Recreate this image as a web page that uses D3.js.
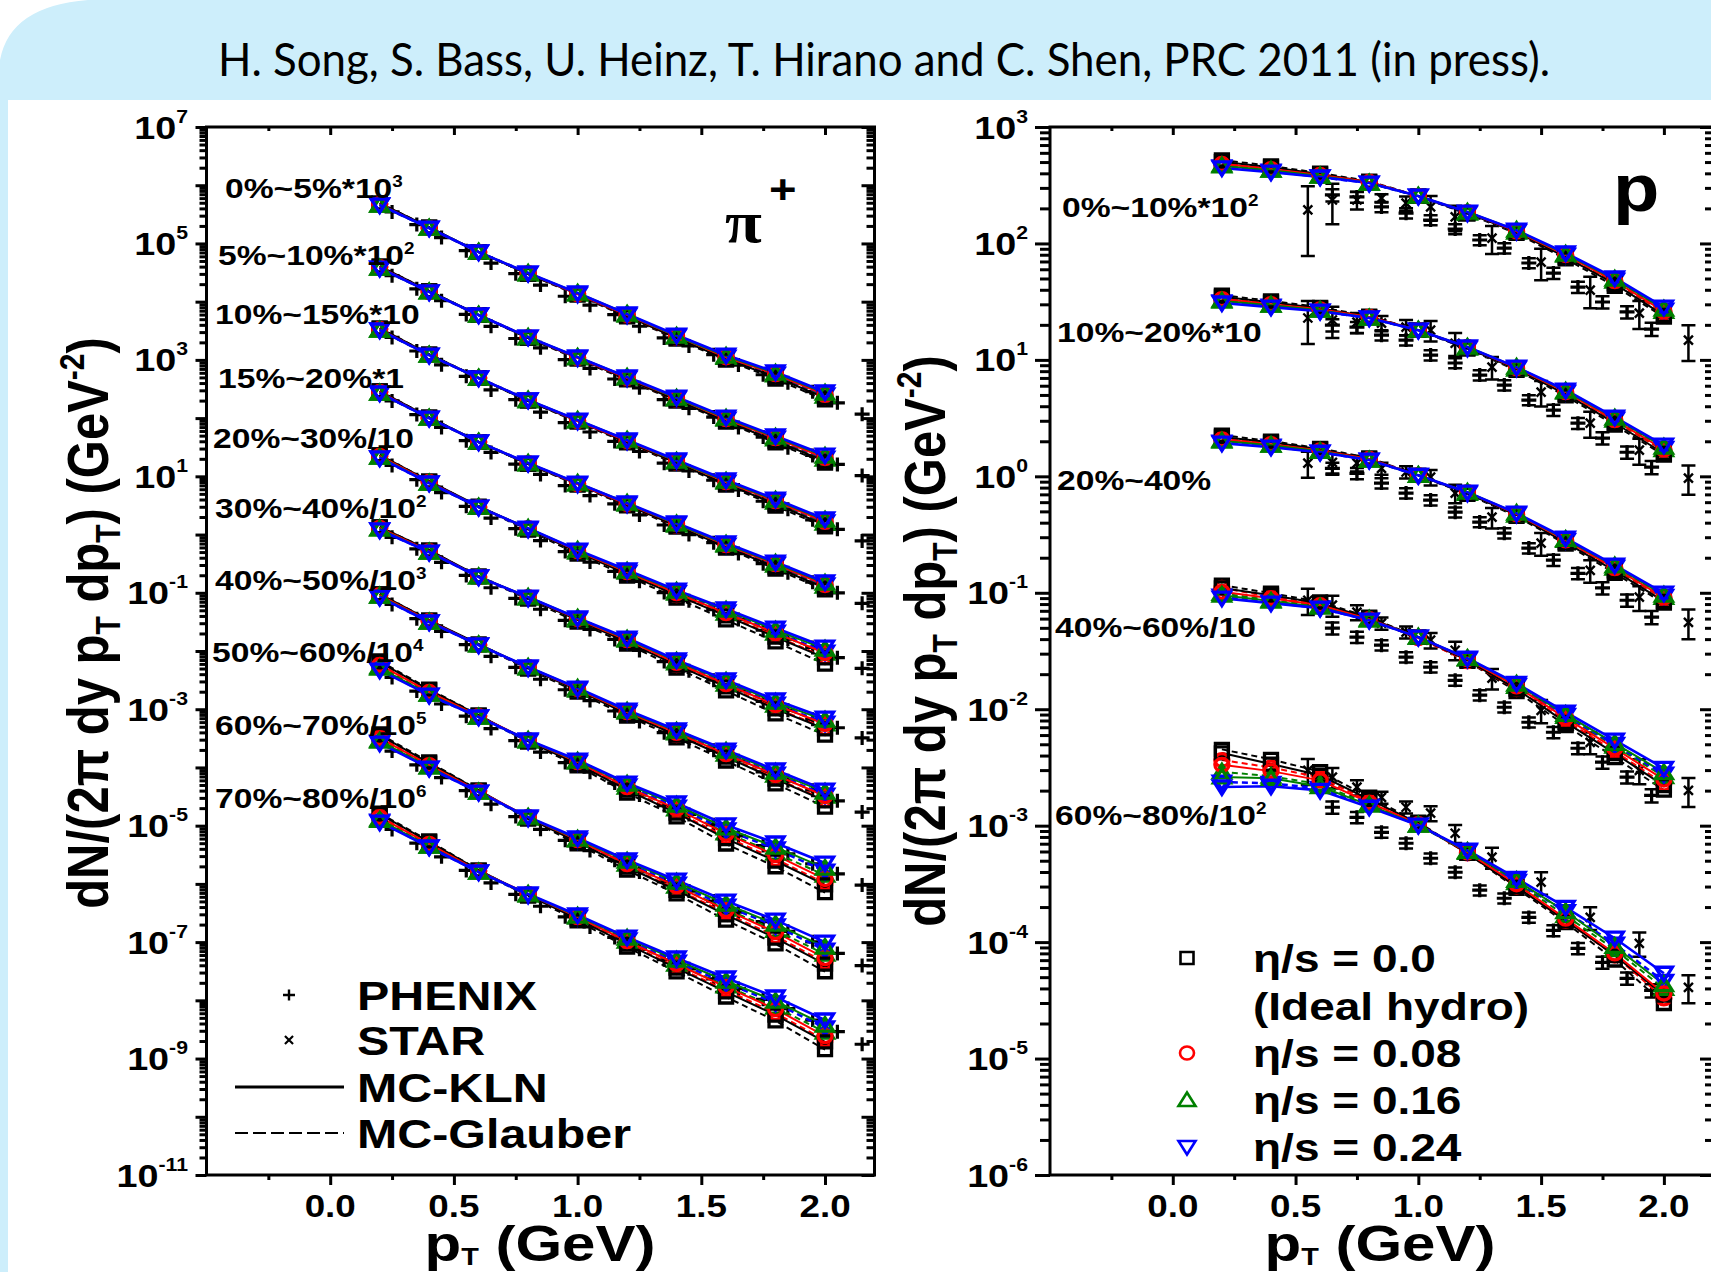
<!DOCTYPE html>
<html>
<head>
<meta charset="utf-8">
<title>Pion and proton spectra: viscous hydro vs. RHIC data</title>
<script src="https://cdn.jsdelivr.net/npm/d3@7"></script>
<style>
  html, body { margin: 0; padding: 0; background: #ffffff; }
  svg { display: block; }
  text { font-family: "Liberation Sans", Arial, sans-serif; font-weight: bold; fill: #000; }
</style>
</head>
<body>
<svg id="chart" width="1711" height="1272"></svg>
<script>
// ================= data =================
const titleText = "H. Song, S. Bass, U. Heinz, T. Hirano and C. Shen, PRC 2011 (in press).";

// pT grid of the hydro calculations (GeV)
const ptModel = [0.2, 0.4, 0.6, 0.8, 1.0, 1.2, 1.4, 1.6, 1.8, 2.0];

// ---- pi+ : centrality classes, scale factors (powers of ten) ----
const pionCentLabels = ["0%~5%*10", "5%~10%*10", "10%~15%*10", "15%~20%*1", "20%~30%/10",
                        "30%~40%/10", "40%~50%/10", "50%~60%/10", "60%~70%/10", "70%~80%/10"];
const pionCentSup    = ["3", "2", "", "", "", "2", "3", "4", "5", "6"];
const pionScaleExp   = [3, 2, 1, 0, -1, -2, -3, -4, -5, -6];

// dN/(2pi dy pT dpT) in GeV^-2 (unscaled), one row per centrality
const pionKLN024 = [
  [457,184,71.3,31.0,14.1,6.14,2.67,1.21,0.619,0.281],
  [378,147,59.0,24.7,11.2,5.08,2.30,1.04,0.493,0.232],
  [326,121,48.9,20.5,9.27,4.21,1.91,0.865,0.407,0.185],
  [270,100,38.9,16.9,7.67,3.48,1.58,0.716,0.337,0.153],
  [207,76.8,29.7,12.9,5.42,2.46,1.11,0.526,0.248,0.117],
  [120,50.1,18.7,8.45,3.69,1.67,0.700,0.318,0.144,0.0706],
  [84.5,31.5,12.7,5.31,2.31,0.968,0.440,0.199,0.0904,0.0409],
  [47.1,17.5,7.35,2.96,1.34,0.540,0.245,0.103,0.0504,0.0228],
  [26.2,9.77,3.78,1.41,0.614,0.257,0.116,0.0507,0.0239,0.0100],
  [11.5,4.30,1.60,0.670,0.292,0.122,0.0533,0.0242,0.0114,0.00459]
];
const pionKLN016 = [
  [457,184,71.3,31.0,14.1,6.14,2.56,1.16,0.594,0.270],
  [378,147,59.0,24.7,11.2,5.08,2.21,1.00,0.473,0.223],
  [326,121,48.9,20.5,9.27,4.21,1.83,0.830,0.391,0.178],
  [270,100,38.9,16.9,7.67,3.48,1.52,0.687,0.324,0.147],
  [215,76.8,29.7,12.9,5.42,2.36,1.07,0.505,0.228,0.108],
  [125,50.1,18.7,8.45,3.69,1.60,0.672,0.305,0.132,0.0650],
  [87.9,31.5,12.7,5.31,2.31,0.929,0.422,0.191,0.0832,0.0376],
  [50.9,18.2,7.35,2.96,1.29,0.518,0.225,0.0917,0.0428,0.0187],
  [28.3,10.2,3.78,1.41,0.589,0.247,0.107,0.0451,0.0203,0.00820],
  [12.4,4.47,1.60,0.670,0.280,0.117,0.0490,0.0215,0.00969,0.00376]
];
const pionKLN008 = [
  [475,184,71.3,31.0,13.5,5.89,2.56,1.11,0.569,0.250],
  [393,147,59.0,24.7,10.8,4.88,2.21,0.957,0.454,0.206],
  [339,121,48.9,20.5,8.90,4.04,1.83,0.796,0.374,0.165],
  [281,100,38.9,16.9,7.36,3.34,1.52,0.659,0.310,0.136],
  [224,79.9,29.7,12.9,5.20,2.26,0.988,0.447,0.203,0.0924],
  [130,52.1,18.7,8.45,3.54,1.54,0.623,0.270,0.118,0.0558],
  [91.3,32.8,12.7,5.31,2.22,0.891,0.392,0.169,0.0741,0.0323],
  [57.5,19.8,7.64,2.96,1.23,0.459,0.194,0.0721,0.0312,0.0121],
  [32.0,11.0,3.93,1.41,0.565,0.218,0.0916,0.0355,0.0148,0.00530],
  [14.0,4.86,1.66,0.670,0.269,0.104,0.0421,0.0169,0.00707,0.00243]
];
const pionKLN000 = [
  [494,191,71.3,29.8,13.5,5.65,2.38,1.03,0.508,0.222],
  [408,153,59.0,23.7,10.8,4.67,2.05,0.884,0.404,0.183],
  [352,126,48.9,19.7,8.90,3.87,1.70,0.735,0.334,0.146],
  [292,104,38.9,16.2,7.36,3.20,1.41,0.609,0.276,0.121],
  [234,82.9,30.9,12.4,4.99,2.09,0.910,0.400,0.174,0.0761],
  [136,54.1,19.4,8.11,3.39,1.42,0.574,0.242,0.101,0.0459],
  [95.5,34.0,13.2,5.10,2.13,0.823,0.361,0.151,0.0633,0.0266],
  [64.5,21.4,7.94,2.84,1.14,0.410,0.164,0.0597,0.0247,0.00958],
  [35.9,11.9,4.08,1.35,0.522,0.195,0.0777,0.0294,0.0117,0.00420],
  [15.8,5.25,1.73,0.643,0.248,0.0927,0.0357,0.0140,0.00559,0.00193]
];
const pionGLB024 = [
  [457,184,71.3,31.0,13.5,5.89,2.56,1.11,0.569,0.250],
  [378,147,59.0,24.7,10.8,4.88,2.21,0.957,0.454,0.206],
  [326,121,48.9,20.5,8.90,4.04,1.83,0.796,0.374,0.165],
  [270,100,38.9,16.9,7.36,3.34,1.52,0.659,0.310,0.136],
  [207,76.8,29.7,12.4,5.20,2.26,1.02,0.468,0.211,0.0959],
  [120,50.1,18.7,8.11,3.54,1.54,0.644,0.283,0.122,0.0579],
  [84.5,31.5,12.7,5.10,2.22,0.891,0.405,0.177,0.0768,0.0335],
  [49.0,17.5,7.35,2.84,1.23,0.481,0.208,0.0845,0.0398,0.0166],
  [27.2,9.77,3.78,1.35,0.565,0.229,0.0986,0.0416,0.0189,0.00730],
  [12.0,4.30,1.60,0.643,0.269,0.109,0.0453,0.0198,0.00901,0.00335]
];
const pionGLB016 = [
  [457,184,71.3,29.8,13.5,5.89,2.46,1.11,0.551,0.239],
  [378,147,59.0,23.7,10.8,4.88,2.12,0.957,0.439,0.197],
  [326,121,48.9,19.7,8.90,4.04,1.76,0.796,0.362,0.157],
  [270,100,38.9,16.2,7.36,3.34,1.45,0.659,0.300,0.130],
  [215,76.8,29.7,12.4,4.99,2.26,0.988,0.447,0.203,0.0924],
  [125,50.1,18.7,8.11,3.39,1.54,0.623,0.270,0.118,0.0558],
  [87.9,31.5,12.7,5.10,2.13,0.891,0.392,0.169,0.0741,0.0323],
  [53.2,18.2,7.35,2.84,1.23,0.459,0.194,0.0752,0.0338,0.0141],
  [29.6,10.2,3.78,1.35,0.565,0.218,0.0916,0.0370,0.0160,0.00620],
  [13.0,4.47,1.60,0.643,0.269,0.104,0.0421,0.0177,0.00764,0.00285]
];
const pionGLB008 = [
  [475,184,71.3,29.8,13.5,5.65,2.38,1.08,0.526,0.230],
  [393,147,59.0,23.7,10.8,4.67,2.05,0.926,0.419,0.190],
  [339,121,48.9,19.7,8.90,3.87,1.70,0.770,0.346,0.152],
  [281,100,38.9,16.2,7.36,3.20,1.41,0.637,0.286,0.125],
  [224,79.9,29.7,12.4,4.99,2.19,0.910,0.416,0.181,0.0784],
  [130,52.1,18.7,8.11,3.39,1.49,0.574,0.251,0.105,0.0473],
  [91.3,32.8,12.7,5.10,2.13,0.862,0.361,0.157,0.0660,0.0274],
  [59.8,19.8,7.64,2.84,1.19,0.427,0.172,0.0639,0.0267,0.0103],
  [33.3,11.0,3.93,1.35,0.546,0.203,0.0812,0.0314,0.0127,0.00450],
  [14.6,4.86,1.66,0.643,0.260,0.0964,0.0373,0.0150,0.00604,0.00207]
];
const pionGLB000 = [
  [494,191,71.3,29.8,13.0,5.46,2.27,0.992,0.470,0.205],
  [408,153,59.0,23.7,10.3,4.52,1.96,0.853,0.375,0.169],
  [352,126,48.9,19.7,8.53,3.75,1.62,0.709,0.309,0.135],
  [292,104,38.9,16.2,7.06,3.10,1.34,0.587,0.256,0.112],
  [234,82.9,29.7,11.9,4.61,1.94,0.810,0.342,0.144,0.0597],
  [136,54.1,18.7,7.77,3.14,1.32,0.511,0.207,0.0835,0.0360],
  [95.5,34.0,12.7,4.89,1.96,0.765,0.321,0.129,0.0524,0.0209],
  [67.4,22.2,7.94,2.72,1.06,0.362,0.142,0.0484,0.0197,0.00707],
  [37.5,12.4,4.08,1.30,0.485,0.172,0.0673,0.0238,0.00932,0.00310],
  [16.4,5.46,1.73,0.616,0.231,0.0817,0.0309,0.0114,0.00445,0.00142]
];

// PHENIX pi+ measurements
const pionPhenixPt = [0.25,0.35,0.45,0.55,0.65,0.75,0.85,0.95,1.05,1.15,
                      1.25,1.35,1.45,1.55,1.65,1.75,1.85,1.95,2.05,2.15];
const pionPhenix = [
  [348,211,126,75.2,46.0,30.3,19.3,12.4,8.69,6.00,3.78,2.38,1.74,1.23,0.815,0.556,0.404,0.284,0.183,0.117],
  [279,166,104,60.3,37.7,23.3,16.1,10.1,7.13,4.70,3.31,2.08,1.47,1.04,0.687,0.472,0.310,0.228,0.160,0.103],
  [243,142,82.2,52.2,30.5,20.7,12.7,8.37,5.77,3.98,2.68,1.68,1.24,0.857,0.582,0.373,0.272,0.179,0.123,0.0776],
  [197,115,69.0,41.0,25.7,16.2,10.8,6.93,4.67,3.37,2.17,1.46,1.00,0.726,0.471,0.316,0.220,0.152,0.0998,0.0658],
  [154,87.5,52.7,30.6,19.2,12.6,7.89,5.11,3.37,2.33,1.57,1.01,0.733,0.515,0.346,0.227,0.160,0.115,0.0769,0.0505],
  [89.7,56.8,33.3,19.9,12.2,8.00,5.21,3.37,2.35,1.58,1.02,0.659,0.456,0.315,0.207,0.136,0.0957,0.0670,0.0481,0.0321],
  [63.1,35.9,21.8,12.9,8.09,5.24,3.27,2.16,1.41,0.933,0.617,0.396,0.280,0.197,0.130,0.0836,0.0589,0.0406,0.0267,0.0171],
  [35.2,20.5,12.3,7.59,4.65,2.88,1.84,1.21,0.828,0.538,0.336,0.221,0.156,0.104,0.0667,0.0456,0.0328,0.0221,0.0149,0.00955],
  [19.1,11.1,6.71,3.99,2.34,1.43,0.867,0.560,0.374,0.254,0.160,0.108,0.0752,0.0507,0.0326,0.0224,0.0153,0.0101,0.00640,0.00395],
  [8.61,5.01,2.92,1.70,1.04,0.661,0.413,0.272,0.182,0.120,0.0753,0.0498,0.0348,0.0234,0.0159,0.0104,0.00721,0.00458,0.00290,0.00176]
];

// ---- protons ----
const protonCentLabels = ["0%~10%*10", "10%~20%*10", "20%~40%", "40%~60%/10", "60%~80%/10"];
const protonCentSup    = ["2", "", "", "", "2"];
const protonScaleExp   = [2, 1, 0, -1, -2];

const protonKLN024 = [
  [4.45,4.10,3.72,3.30,2.55,1.86,1.30,0.828,0.505,0.284],
  [3.08,2.84,2.62,2.29,1.80,1.29,0.867,0.551,0.323,0.185],
  [1.93,1.78,1.61,1.38,1.02,0.731,0.483,0.294,0.173,0.0993],
  [0.899,0.815,0.738,0.582,0.416,0.274,0.167,0.0942,0.0542,0.0311],
  [0.215,0.218,0.201,0.144,0.101,0.0615,0.0353,0.0199,0.0108,0.00540]
];
const protonKLN016 = [
  [4.63,4.26,3.79,3.30,2.55,1.86,1.30,0.811,0.495,0.273],
  [3.20,2.95,2.67,2.29,1.80,1.29,0.867,0.540,0.317,0.178],
  [2.01,1.85,1.64,1.38,1.02,0.731,0.483,0.288,0.170,0.0953],
  [0.953,0.848,0.753,0.582,0.416,0.274,0.164,0.0904,0.0509,0.0286],
  [0.262,0.255,0.217,0.150,0.101,0.0603,0.0339,0.0183,0.00918,0.00432]
];
const protonKLN008 = [
  [4.81,4.35,3.87,3.37,2.55,1.86,1.27,0.795,0.475,0.261],
  [3.33,3.01,2.72,2.34,1.80,1.29,0.850,0.529,0.304,0.170],
  [2.08,1.89,1.67,1.41,1.02,0.731,0.473,0.282,0.163,0.0914],
  [1.02,0.897,0.782,0.594,0.416,0.269,0.157,0.0838,0.0461,0.0249],
  [0.333,0.294,0.245,0.158,0.103,0.0590,0.0314,0.0159,0.00799,0.00362]
];
const protonKLN000 = [
  [5.03,4.51,3.94,3.37,2.55,1.82,1.25,0.762,0.449,0.241],
  [3.48,3.12,2.78,2.34,1.80,1.26,0.832,0.507,0.287,0.157],
  [2.18,1.96,1.71,1.41,1.02,0.716,0.464,0.270,0.154,0.0844],
  [1.10,0.954,0.812,0.605,0.416,0.263,0.149,0.0772,0.0417,0.0221],
  [0.421,0.338,0.271,0.168,0.105,0.0578,0.0300,0.0153,0.00767,0.00351]
];
const protonGLB024 = [
  [4.54,4.18,3.72,3.30,2.55,1.82,1.27,0.795,0.485,0.267],
  [3.14,2.90,2.62,2.29,1.80,1.26,0.850,0.529,0.310,0.174],
  [1.97,1.82,1.61,1.38,1.02,0.716,0.473,0.282,0.166,0.0933],
  [0.935,0.831,0.738,0.582,0.416,0.269,0.160,0.0885,0.0499,0.0277],
  [0.237,0.231,0.209,0.147,0.101,0.0603,0.0332,0.0183,0.00961,0.00459]
];
const protonGLB016 = [
  [4.72,4.26,3.79,3.30,2.55,1.82,1.25,0.795,0.475,0.261],
  [3.26,2.95,2.67,2.29,1.80,1.26,0.832,0.529,0.304,0.170],
  [2.05,1.85,1.64,1.38,1.02,0.716,0.464,0.282,0.163,0.0914],
  [0.989,0.864,0.768,0.594,0.416,0.269,0.157,0.0867,0.0482,0.0264],
  [0.290,0.266,0.227,0.153,0.101,0.0590,0.0325,0.0169,0.00864,0.00400]
];
const protonGLB008 = [
  [4.90,4.43,3.87,3.37,2.55,1.82,1.25,0.778,0.465,0.253],
  [3.39,3.07,2.72,2.34,1.80,1.26,0.832,0.518,0.297,0.165],
  [2.12,1.92,1.67,1.41,1.02,0.716,0.464,0.276,0.159,0.0884],
  [1.10,0.921,0.797,0.594,0.408,0.258,0.149,0.0801,0.0434,0.0230],
  [0.366,0.316,0.259,0.163,0.103,0.0578,0.0300,0.0153,0.00767,0.00329]
];
const protonGLB000 = [
  [5.21,4.63,4.02,3.43,2.55,1.79,1.22,0.737,0.429,0.233],
  [3.60,3.21,2.83,2.38,1.80,1.24,0.815,0.490,0.275,0.152],
  [2.26,2.01,1.74,1.44,1.02,0.702,0.454,0.262,0.147,0.0814],
  [1.16,0.994,0.834,0.617,0.416,0.258,0.142,0.0725,0.0385,0.0202],
  [0.452,0.371,0.291,0.176,0.107,0.0578,0.0289,0.0147,0.00702,0.00297]
];

// PHENIX protons
const protonPhenixPt = [0.65,0.75,0.85,0.95,1.05,1.15,1.25,1.35,1.45,1.55,1.65,1.75,1.85,1.95];
const protonPhenix = [
  [2.61,2.51,2.06,1.82,1.59,1.33,1.07,0.912,0.679,0.557,0.422,0.314,0.258,0.184],
  [1.99,1.91,1.63,1.48,1.10,0.940,0.740,0.608,0.452,0.371,0.286,0.213,0.161,0.120],
  [1.17,1.06,0.875,0.718,0.625,0.492,0.405,0.325,0.242,0.191,0.147,0.110,0.0863,0.0617],
  [0.497,0.416,0.355,0.280,0.230,0.177,0.132,0.104,0.0773,0.0634,0.0462,0.0351,0.0261,0.0182],
  [0.144,0.118,0.0877,0.0706,0.0525,0.0398,0.0279,0.0238,0.0163,0.0126,0.00885,0.00670,0.00489,0.00385]
];
const protonPhenixRelErr = [0.12,0.11,0.10,0.10,0.10,0.10,0.10,0.10,0.10,0.11,0.11,0.12,0.12,0.13];

// STAR protons
const protonStarPt = [0.55,0.65,0.75,0.85,0.95,1.05,1.15,1.3,1.5,1.7,1.9,2.1];
const protonStar = [
  [1.94,2.36,2.36,2.45,2.22,2.06,1.69,1.11,0.692,0.398,0.252,0.148],
  [2.29,2.20,2.11,2.07,1.91,1.80,1.39,0.867,0.528,0.286,0.168,0.0966],
  [1.30,1.32,1.30,1.17,1.09,0.984,0.718,0.446,0.267,0.156,0.0916,0.0558],
  [0.863,0.782,0.681,0.548,0.459,0.392,0.321,0.185,0.0979,0.0520,0.0299,0.0201],
  [0.299,0.261,0.214,0.175,0.144,0.128,0.0861,0.0536,0.0327,0.0163,0.00977,0.00409]
];
const protonStarErr = [
  [1.16,0.90,0.40,0.20,0.31,0.49,0.42,0.30,0.21,0.12,0.068,0.050],
  [0.92,0.66,0.42,0.31,0.29,0.36,0.31,0.19,0.13,0.072,0.042,0.027],
  [0.33,0.26,0.20,0.14,0.13,0.15,0.13,0.089,0.059,0.034,0.022,0.016],
  [0.22,0.16,0.10,0.066,0.055,0.059,0.058,0.037,0.022,0.011,0.0072,0.0056],
  [0.075,0.052,0.032,0.021,0.017,0.019,0.015,0.011,0.0072,0.0036,0.0023,0.0011]
];

// axis ticks
const xMajorTicks = [0, 0.5, 1.0, 1.5, 2.0];
const xMinorTicks = [-0.25, 0.25, 0.75, 1.25, 1.75];
const pionLabelExps = [7, 5, 3, 1, -1, -3, -5, -7, -9, -11];
const protonLabelExps = [3, 2, 1, 0, -1, -2, -3, -4, -5, -6];

// legends
const dataLegend = ["PHENIX", "STAR", "MC-KLN", "MC-Glauber"];
const etaLegend = ["η/s = 0.0", "(Ideal hydro)", "η/s = 0.08", "η/s = 0.16", "η/s = 0.24"];

// ================= drawing =================
const W = 1711, H = 1272;
const svg = d3.select("#chart");

// slide background
svg.append("rect").attr("width", W).attr("height", H).attr("fill", "#ffffff");
svg.append("path")
  .attr("d", `M0,${H} L0,60 Q10,6 88,0 L${W},0 L${W},100 L8,100 L8,${H} Z`)
  .attr("fill", "#cdeefb");
svg.append("text")
  .attr("x", 884).attr("y", 76)
  .attr("text-anchor", "middle")
  .attr("textLength", 1332).attr("lengthAdjust", "spacingAndGlyphs")
  .style("font-family", "Lato, 'Open Sans', sans-serif").style("font-weight", "normal")
  .attr("font-size", 46)
  .text(titleText);

const SX = 1.18; // horizontal stretch of the figure lettering

function stretched(g, x, y, size, anchor = "start", sx = SX) {
  return g.append("text")
    .attr("transform", `translate(${x},${y}) scale(${sx},1)`)
    .attr("text-anchor", anchor)
    .attr("font-size", size);
}

function logTicks(lo, hi) {
  const major = [], minor = [];
  for (let e = lo; e <= hi; e++) {
    major.push(Math.pow(10, e));
    if (e < hi) for (let k = 2; k <= 9; k++) minor.push(k * Math.pow(10, e));
  }
  return { major, minor };
}

const etaColors = ["#000000", "#ff0000", "#008000", "#0000ff"];
const markerPath = [
  "M-6.5,-6H6.5V6H-6.5Z",                          // square
  "M-7,0A7,6.5 0 1,0 7,0A7,6.5 0 1,0 -7,0Z",      // circle
  "M0,-7.5L8.5,6L-8.5,6Z",                         // up triangle
  "M-8.5,-6L8.5,-6L0,7.5Z"                         // down triangle
];
const plusPath = "M-7.5,0H7.5M0,-7V7";
const crossPath = "M-4.5,-4.5L4.5,4.5M-4.5,4.5L4.5,-4.5";

function drawFrame(cfg) {
  const g = svg.append("g");
  const { x, y } = cfg;
  const [x0, x1] = x.range();
  const [yB, yT] = y.range();
  const tidy = sel => {
    sel.select(".domain").remove();
    sel.selectAll(".tick text").remove();
    sel.selectAll(".tick line").attr("stroke", "#000").attr("stroke-width", 3);
  };
  const ax = (gen, tx, ty) =>
    g.append("g").attr("transform", `translate(${tx},${ty})`).call(gen).call(tidy);

  ax(d3.axisBottom(x).tickValues(xMajorTicks).tickSize(10).tickFormat(""), 0, yB);
  ax(d3.axisBottom(x).tickValues(xMinorTicks).tickSize(5).tickFormat(""), 0, yB);
  ax(d3.axisBottom(x).tickValues(xMajorTicks).tickSize(8).tickFormat(""), 0, yT);
  ax(d3.axisBottom(x).tickValues(xMinorTicks).tickSize(4).tickFormat(""), 0, yT);

  const lt = logTicks(cfg.expLo, cfg.expHi);
  ax(d3.axisLeft(y).tickValues(lt.major).tickSize(cfg.leftMajor).tickFormat(""), x0, 0);
  ax(d3.axisLeft(y).tickValues(lt.minor).tickSize(cfg.leftMinor).tickFormat(""), x0, 0);
  ax(d3.axisLeft(y).tickValues(lt.major).tickSize(13).tickFormat(""), x1, 0);
  ax(d3.axisLeft(y).tickValues(lt.minor).tickSize(8).tickFormat(""), x1, 0);

  g.append("rect")
    .attr("x", x0).attr("y", yT).attr("width", x1 - x0).attr("height", yB - yT)
    .attr("fill", "none").attr("stroke", "#000").attr("stroke-width", 3);

  xMajorTicks.forEach(v => stretched(g, x(v), yB + 42, 32, "middle", 1.15).text(v.toFixed(1)));
  cfg.labelExps.forEach(e => {
    const t = stretched(g, cfg.yLabelRight, y(Math.pow(10, e)) + 11.5, 32, "end");
    t.append("tspan").text("10");
    t.append("tspan").attr("font-size", 18).attr("dy", -16).text(String(e));
  });
  return g;
}

function drawModels(g, x, y, kln, glb, scaleExp) {
  const line = d3.line();
  const pts = (vals, i) => vals.map((v, j) => [x(ptModel[j]), y(v * Math.pow(10, scaleExp[i]))]);
  // MC-Glauber (dashed) underneath, MC-KLN (solid) on top
  [[glb, "6,4"], [kln, null]].forEach(([sets, dash]) => {
    sets.forEach((rows, k) => rows.forEach((vals, i) => {
      g.append("path").attr("d", line(pts(vals, i)))
        .attr("fill", "none").attr("stroke", etaColors[k])
        .attr("stroke-width", k === 3 ? 2.6 : 2)
        .attr("stroke-dasharray", dash);
    }));
  });
  [glb, kln].forEach(sets => {
    sets.forEach((rows, k) => rows.forEach((vals, i) => {
      pts(vals, i).forEach(([px, py]) => {
        g.append("path").attr("d", markerPath[k])
          .attr("transform", `translate(${px},${py})`)
          .attr("fill", "none").attr("stroke", etaColors[k]).attr("stroke-width", 3.3);
      });
    }));
  });
}

function drawPoints(g, x, y, pt, rows, scaleExp, shape, errFn) {
  rows.forEach((vals, i) => {
    const f = Math.pow(10, scaleExp[i]);
    vals.forEach((v, j) => {
      const px = x(pt[j]);
      if (errFn) {
        const e = errFn(i, j, v);
        const yHi = y((v + e) * f), yLo = y(Math.max(v - e, v * 0.05) * f);
        g.append("path")
          .attr("d", `M${px},${yHi}V${yLo}M${px - 7},${yHi}H${px + 7}M${px - 7},${yLo}H${px + 7}`)
          .attr("stroke", "#000").attr("stroke-width", 2.5).attr("fill", "none");
      }
      g.append("path").attr("d", shape)
        .attr("transform", `translate(${px},${y(v * f)})`)
        .attr("stroke", "#000").attr("stroke-width", shape === plusPath ? 3.2 : 2.4).attr("fill", "none");
    });
  });
}

function centLabel(g, x, cy, text, sup) {
  const t = stretched(g, x, cy + 10, 28.5, "start");
  t.append("tspan").text(text);
  if (sup) t.append("tspan").attr("font-size", 16).attr("dy", -11).text(sup);
}

function yTitle(x, cy) {
  const t = svg.append("text")
    .attr("transform", `translate(${x},${cy}) rotate(-90) scale(1,${SX})`)
    .attr("text-anchor", "middle").attr("font-size", 49);
  t.append("tspan").text("dN/(2π dy p");
  t.append("tspan").attr("font-size", 30).attr("dy", 10).text("T");
  t.append("tspan").attr("dy", -10).text(" dp");
  t.append("tspan").attr("font-size", 30).attr("dy", 10).text("T");
  t.append("tspan").attr("dy", -10).text(") (GeV");
  t.append("tspan").attr("font-size", 30).attr("dy", -20).text("-2");
  t.append("tspan").attr("dy", 20).text(")");
}

function xTitle(cx) {
  const t = stretched(svg, cx, 1261, 50, "middle", 1.2);
  t.append("tspan").text("p");
  t.append("tspan").attr("font-size", 24).attr("dy", 4).text("T");
  t.append("tspan").attr("dy", -4).text(" (GeV)");
}

// ---------------- pi+ panel ----------------
const xL = d3.scaleLinear().domain([-0.5, 2.2]).range([206.5, 874.5]);
const yL = d3.scaleLog().domain([1e-11, 1e7]).range([1175, 127]);
const gL = drawFrame({ x: xL, y: yL, expLo: -11, expHi: 7, leftMajor: 11, leftMinor: 7,
                       labelExps: pionLabelExps, yLabelRight: 188 });

drawPoints(gL, xL, yL, pionPhenixPt, pionPhenix, pionScaleExp, plusPath, null);
drawModels(gL, xL, yL,
  [pionKLN000, pionKLN008, pionKLN016, pionKLN024],
  [pionGLB000, pionGLB008, pionGLB016, pionGLB024], pionScaleExp);

const pionLabelPos = [[225,188],[218,255],[215,314],[218,378],[213,438],
                      [215,508],[215,580],[212,652],[215,725],[215,798]];
pionCentLabels.forEach((s, i) => centLabel(gL, pionLabelPos[i][0], pionLabelPos[i][1], s, pionCentSup[i]));

gL.append("text").attr("transform", "translate(725,242) scale(1.12,1)")
  .style("font-family", "'Liberation Serif', 'DejaVu Serif', serif")
  .attr("font-size", 60).text("π");
stretched(gL, 769, 203, 40).text("+");

// data / initial-condition legend
const legY = [995, 1040, 1087, 1133];
gL.append("path").attr("d", plusPath).attr("transform", `translate(289,${legY[0]}) scale(0.8)`)
  .attr("stroke", "#000").attr("stroke-width", 3).attr("fill", "none");
gL.append("path").attr("d", crossPath).attr("transform", `translate(289,${legY[1]}) scale(0.9)`)
  .attr("stroke", "#000").attr("stroke-width", 2.4).attr("fill", "none");
gL.append("line").attr("x1", 235).attr("x2", 344).attr("y1", legY[2]).attr("y2", legY[2])
  .attr("stroke", "#000").attr("stroke-width", 3);
gL.append("line").attr("x1", 235).attr("x2", 344).attr("y1", legY[3]).attr("y2", legY[3])
  .attr("stroke", "#000").attr("stroke-width", 2).attr("stroke-dasharray", "13,5");
dataLegend.forEach((s, i) => stretched(gL, 357, legY[i] + 15, 41).text(s));

// ---------------- proton panel ----------------
const xR = d3.scaleLinear().domain([-0.5, 2.2]).range([1050, 1713]);
const yR = d3.scaleLog().domain([1e-6, 1e3]).range([1175, 127]);
const gR = drawFrame({ x: xR, y: yR, expLo: -6, expHi: 3, leftMajor: 15, leftMinor: 10,
                       labelExps: protonLabelExps, yLabelRight: 1028 });

drawPoints(gR, xR, yR, protonStarPt, protonStar, protonScaleExp, crossPath,
  (i, j) => protonStarErr[i][j]);
drawPoints(gR, xR, yR, protonPhenixPt, protonPhenix, protonScaleExp, plusPath,
  (i, j, v) => v * protonPhenixRelErr[j]);
drawModels(gR, xR, yR,
  [protonKLN000, protonKLN008, protonKLN016, protonKLN024],
  [protonGLB000, protonGLB008, protonGLB016, protonGLB024], protonScaleExp);

const protonLabelPos = [[1062,207],[1057,332],[1057,480],[1055,627],[1055,815]];
protonCentLabels.forEach((s, i) => centLabel(gR, protonLabelPos[i][0], protonLabelPos[i][1], s, protonCentSup[i]));

stretched(gR, 1613, 211, 66, "start", 1.15).text("p");

// eta/s legend
const etaLegY = [958, 1006, 1053, 1100, 1147];
const etaMarkRow = [0, null, 1, 2, 3];
etaLegend.forEach((s, i) => {
  const k = etaMarkRow[i];
  if (k !== null) {
    gR.append("path").attr("d", markerPath[k]).attr("transform", `translate(1187,${etaLegY[i]})`)
      .attr("fill", "none").attr("stroke", etaColors[k]).attr("stroke-width", 2.6);
  }
  stretched(gR, 1253, etaLegY[i] + 14, 39).text(s);
});

// axis titles
yTitle(108, 623);
yTitle(945, 641);
xTitle(540);
xTitle(1380);
</script>
</body>
</html>
